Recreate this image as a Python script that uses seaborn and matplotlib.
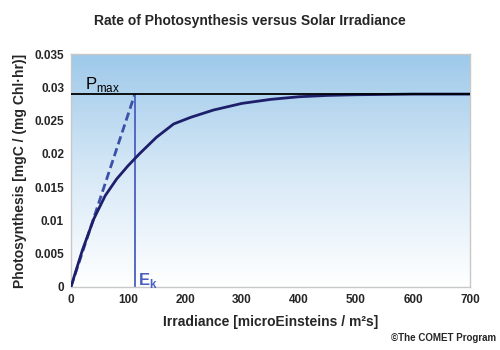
import numpy as np
import pandas as pd
import matplotlib
matplotlib.use("Agg")
import matplotlib.pyplot as plt
import seaborn as sns
from matplotlib.colors import LinearSegmentedColormap

# Data
irradiance = [0, 20, 40, 60, 80, 100, 120, 150, 180, 210, 250, 300, 350, 400, 450, 500, 600, 700]
photosynthesis = [0, 0.0055, 0.0102, 0.0137, 0.0162, 0.0182, 0.0200, 0.0225, 0.0245, 0.0255,
                  0.0266, 0.0276, 0.0282, 0.0286, 0.0288, 0.0289, 0.0290, 0.0290]
p_max = 0.029
e_k = 112
initial_slope_x = [0, e_k]
initial_slope_y = [0, p_max]

sns.set_style("white")
plt.rcParams["font.family"] = ["Liberation Sans", "DejaVu Sans"]

fig = plt.figure(figsize=(5, 3.5), dpi=100)
ax = fig.add_axes([0.142, 0.181, 0.798, 0.664])

# gradient background
grad = np.linspace(0, 1, 256).reshape(-1, 1)
cmap = LinearSegmentedColormap.from_list("bg", ["#ffffff", "#d6e8f6", "#9ec9ea"])
ax.imshow(grad, aspect="auto", cmap=cmap, origin="lower",
          extent=[0, 700, 0, 0.035], zorder=0)

df = pd.DataFrame({"Irradiance": irradiance, "P": photosynthesis})
sns.lineplot(data=df, x="Irradiance", y="P", ax=ax, color="#1e1f6b", lw=2, zorder=3)
sns.lineplot(x=initial_slope_x, y=initial_slope_y, ax=ax, color="#3c50a8", lw=2,
             linestyle=(0, (3, 1.5)), zorder=2)
ax.axhline(p_max, color="black", lw=1.3, zorder=4)
ax.plot([e_k, e_k], [0, p_max], color="#4b5fc0", lw=1.3, zorder=2)

ax.text(25, 0.0298, r"P$_{\mathregular{max}}$", fontsize=12, color="black")
ax.text(e_k + 6, 0.0002, r"E$_{\mathregular{k}}$", fontsize=12, color="#4b5fc0",
        fontweight="bold")

ax.set_xlim(0, 700)
ax.set_ylim(0, 0.035)
ax.set_xticks(range(0, 701, 100))
ax.set_yticks([0, 0.005, 0.01, 0.015, 0.02, 0.025, 0.03, 0.035])
ax.set_yticklabels(["0", "0.005", "0.01", "0.015", "0.02", "0.025", "0.03", "0.035"])
ax.tick_params(labelsize=8.5, length=3, color="#bbbbbb", pad=2)
for lab in ax.get_xticklabels() + ax.get_yticklabels():
    lab.set_fontweight("bold")
for s in ax.spines.values():
    s.set_color("#c8c8c8")
    s.set_linewidth(1)

ax.set_xlabel("Irradiance [microEinsteins / m²s]", fontsize=10, fontweight="bold", labelpad=7)
ax.set_ylabel("Photosynthesis [mgC / (mg Chl·hr)]", fontsize=10, fontweight="bold", labelpad=5)
fig.text(0.5, 0.93, "Rate of Photosynthesis versus Solar Irradiance", ha="center",
         fontsize=10, fontweight="bold")
fig.text(0.992, 0.025, "©The COMET Program", ha="right", fontsize=7, fontweight="bold")

fig.savefig("out.png", dpi=100)
